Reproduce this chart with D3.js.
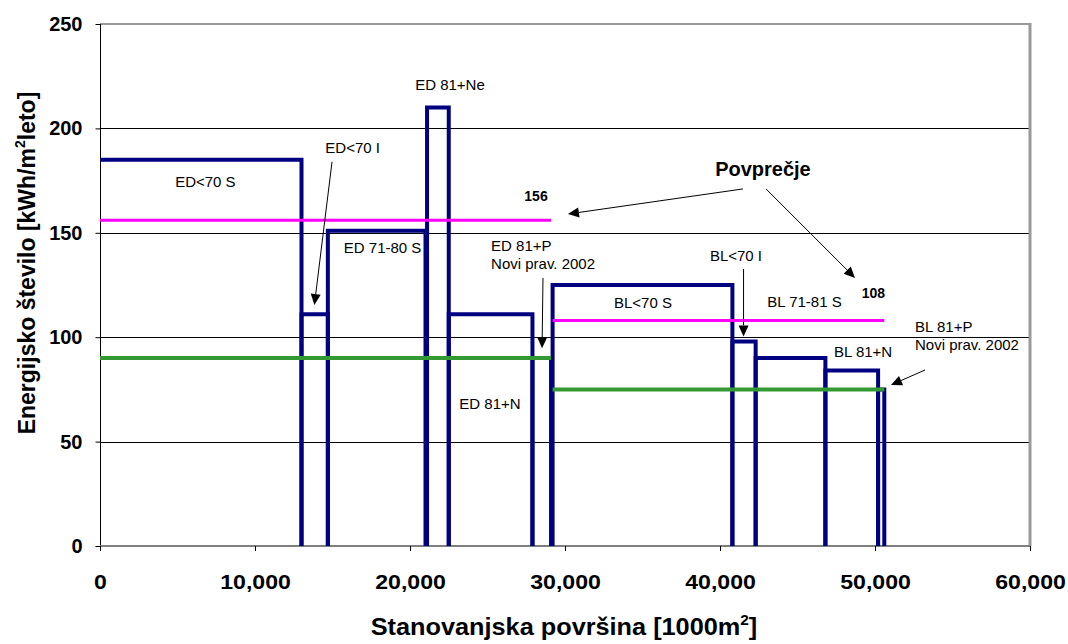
<!DOCTYPE html>
<html><head><meta charset="utf-8">
<script src="https://cdn.jsdelivr.net/npm/d3@7"></script>
<style>
body{margin:0;background:#fff}
svg{display:block;font-family:"Liberation Sans",Arial,Helvetica,sans-serif}
</style>
</head><body>
<svg id="chart" width="1068" height="644"></svg>
<script>
// ---- data ----
const categories = ["ED<70 S","ED<70 I","ED 71-80 S","ED 81+Ne","ED 81+N","ED 81+P","BL<70 S","BL<70 I","BL 71-81 S","BL 81+N","BL 81+P"];
const areaStart  = [0, 13000, 14700, 21100, 22500, 27900, 29200, 40800, 42300, 46800, 50200];
const areaEnd    = [13000, 14700, 21000, 22500, 27900, 29100, 40800, 42300, 46800, 50200, 50600];
const energy     = [185, 111, 151, 210, 111, 90, 125, 98, 90, 84, 75];

const groups     = ["ED", "BL"];
const groupStart = [0, 29200];
const groupEnd   = [29100, 50600];
const groupAvg   = [156, 108];
const groupNorm  = [90, 75];

const xTicks = [0, 10000, 20000, 30000, 40000, 50000, 60000];
const yTicks = [0, 50, 100, 150, 200, 250];

// ---- layout ----
const svg = d3.select("#chart");
const x = d3.scaleLinear().domain([0, 60000]).range([100, 1030]);
const y = d3.scaleLinear().domain([0, 250]).range([546, 24]);

// gridlines
svg.append("g").selectAll("line").data(yTicks.filter(v => v > 0 && v < 250)).join("line")
  .attr("x1", x(0)).attr("x2", x(60000))
  .attr("y1", d => Math.round(y(d)) + 0.5).attr("y2", d => Math.round(y(d)) + 0.5)
  .attr("stroke", "#000").attr("stroke-width", 1);

// plot border (top/right)
svg.append("line").attr("x1", x(0)).attr("x2", x(60000) + 1)
  .attr("y1", y(250)).attr("y2", y(250)).attr("stroke", "#999").attr("stroke-width", 2);
svg.append("line").attr("x1", x(60000)).attr("x2", x(60000))
  .attr("y1", y(250) - 1).attr("y2", y(0)).attr("stroke", "#999").attr("stroke-width", 3);

// y axis
const yAxis = d3.axisLeft(y).tickValues(yTicks).tickSize(5).tickFormat(d3.format("d"));
const gy = svg.append("g").attr("transform", `translate(${x(0) + 0.5},0)`).call(yAxis);
gy.select(".domain").attr("stroke", "#000").attr("d", `M0,${y(250)}V${y(0)}`);
gy.selectAll(".tick line").attr("stroke", "#000");
gy.selectAll(".tick text").attr("x", -18).attr("font-size", 20).attr("font-weight", "bold")
  .attr("fill", "#000").attr("font-family", "Liberation Sans, Arial, sans-serif");

// x axis
const xAxis = d3.axisBottom(x).tickValues(xTicks).tickSize(5).tickFormat(d3.format(","));
const gx = svg.append("g").attr("transform", `translate(0,${y(0)})`).call(xAxis);
gx.select(".domain").attr("stroke", "#808080").attr("stroke-width", 2).attr("d", `M${x(0)},0H${x(60000)}`);
gx.selectAll(".tick line").attr("stroke", "#000");
gx.selectAll(".tick text").remove();
gx.selectAll(".tick").append("text")
  .attr("transform", "translate(0,43) scale(1.1,1)")
  .attr("text-anchor", "middle").attr("font-size", 21).attr("font-weight", "bold")
  .attr("fill", "#000").attr("font-family", "Liberation Sans, Arial, sans-serif")
  .text(d => d3.format(",")(d));

// step rectangles
const line = d3.line();
const stepG = svg.append("g");
categories.forEach((c, i) => {
  const pts = [];
  if (i > 0) pts.push([x(areaStart[i]), y(0)]);
  pts.push([x(areaStart[i]), y(energy[i])]);
  pts.push([x(areaEnd[i]), y(energy[i])]);
  pts.push([x(areaEnd[i]), y(0)]);
  stepG.append("path").attr("d", line(pts)).attr("fill", "none")
    .attr("stroke", "#000080").attr("stroke-width", 4).attr("stroke-linejoin", "miter");
});

// averages and norms
groups.forEach((g, i) => {
  svg.append("line").attr("x1", x(groupStart[i])).attr("x2", x(groupEnd[i]))
    .attr("y1", y(groupAvg[i])).attr("y2", y(groupAvg[i]))
    .attr("stroke", "#FF00FF").attr("stroke-width", 3);
});
groups.forEach((g, i) => {
  svg.append("line").attr("x1", x(groupStart[i])).attr("x2", x(groupEnd[i]))
    .attr("y1", y(groupNorm[i])).attr("y2", y(groupNorm[i]))
    .attr("stroke", "#339933").attr("stroke-width", 4);
});

// ---- annotations (positions in data units) ----
const labels = [
  {t: "ED<70 S", x: 6800, y: 172, a: "middle"},
  {t: "ED<70 I", x: 16300, y: 188, a: "middle"},
  {t: "ED 71-80 S", x: 18230, y: 140.5, a: "middle"},
  {t: "ED 81+Ne", x: 22580, y: 218.5, a: "middle"},
  {t: "ED 81+P", x: 25230, y: 141.5, a: "start"},
  {t: "Novi prav. 2002", x: 25230, y: 132.5, a: "start"},
  {t: "ED 81+N", x: 25160, y: 65.5, a: "middle"},
  {t: "BL<70 S", x: 35030, y: 114, a: "middle"},
  {t: "BL<70 I", x: 41030, y: 136.5, a: "middle"},
  {t: "BL 71-81 S", x: 45450, y: 114.5, a: "middle"},
  {t: "BL 81+N", x: 49230, y: 90.5, a: "middle"},
  {t: "BL 81+P", x: 52580, y: 102.5, a: "start"},
  {t: "Novi prav. 2002", x: 52580, y: 94, a: "start"}
];
svg.append("g").selectAll("text").data(labels).join("text")
  .attr("x", d => x(d.x)).attr("y", d => y(d.y)).attr("text-anchor", d => d.a)
  .attr("font-size", 15).attr("fill", "#000").text(d => d.t);

const boldLabels = [
  {t: "156", x: 28130, y: 165, s: 14},
  {t: "108", x: 49900, y: 119, s: 14},
  {t: "Povprečje", x: 42770, y: 177, s: 20}
];
svg.append("g").selectAll("text").data(boldLabels).join("text")
  .attr("x", d => x(d.x)).attr("y", d => y(d.y)).attr("text-anchor", "middle")
  .attr("font-size", d => d.s).attr("font-weight", "bold").attr("fill", "#000").text(d => d.t);

// arrows
const arrows = [
  {x1: 14970, y1: 184, x2: 13830, y2: 115.4},
  {x1: 28580, y1: 128.4, x2: 28520, y2: 94.7},
  {x1: 41520, y1: 132.7, x2: 41520, y2: 100.3},
  {x1: 41480, y1: 171, x2: 30190, y2: 159},
  {x1: 42970, y1: 171, x2: 48710, y2: 128.4},
  {x1: 53230, y1: 84.3, x2: 51030, y2: 77.1}
];
const ag = svg.append("g");
arrows.forEach(a => {
  const X1 = x(a.x1), Y1 = y(a.y1), X2 = x(a.x2), Y2 = y(a.y2);
  const ang = Math.atan2(Y2 - Y1, X2 - X1);
  const L = 11, W = 5;
  const bx = X2 - L * Math.cos(ang), by = Y2 - L * Math.sin(ang);
  ag.append("line").attr("x1", X1).attr("y1", Y1).attr("x2", bx).attr("y2", by)
    .attr("stroke", "#000").attr("stroke-width", 1);
  const px = -Math.sin(ang) * W, py = Math.cos(ang) * W;
  ag.append("path").attr("d", `M${X2},${Y2}L${bx + px},${by + py}L${bx - px},${by - py}Z`)
    .attr("fill", "#000");
});

// axis titles
const xt = svg.append("text").attr("transform", "translate(564,635) scale(1.1,1)")
  .attr("text-anchor", "middle").attr("font-size", 23).attr("font-weight", "bold").attr("fill", "#000");
xt.append("tspan").text("Stanovanjska površina [1000m");
xt.append("tspan").attr("font-size", 14).attr("dy", -10).text("2");
xt.append("tspan").attr("dy", 10).text("]");

const yt = svg.append("text").attr("transform", "translate(35,263) rotate(-90)")
  .attr("text-anchor", "middle").attr("font-size", 23).attr("font-weight", "bold").attr("fill", "#000");
yt.append("tspan").text("Energijsko število [kWh/m");
yt.append("tspan").attr("font-size", 14).attr("dy", -10).text("2");
yt.append("tspan").attr("dy", 10).text("leto]");
</script>
</body></html>
